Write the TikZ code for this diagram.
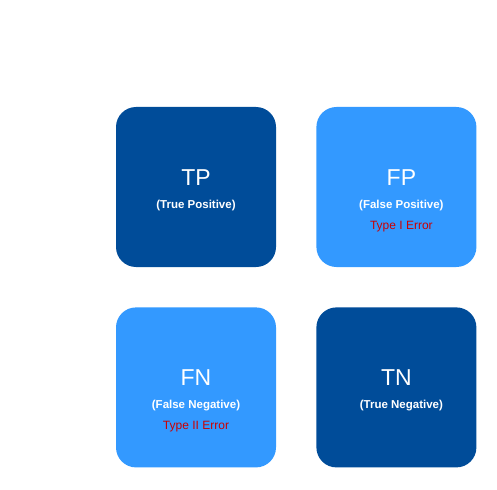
\documentclass[tikz,border=0pt]{standalone}
\usepackage{fontspec}
\setmainfont{Liberation Sans}
\usetikzlibrary{positioning}
\definecolor{darkcell}{RGB}{0,76,153}
\definecolor{lightcell}{RGB}{51,153,255}
\definecolor{errred}{RGB}{204,0,0}
\tikzstyle{cell}=[rounded corners=20pt,minimum size=160pt,inner sep=0pt]
\tikzstyle{cell title}=[anchor=base,inner sep=0pt,text=white,font=\fontsize{23}{23}\selectfont]
\tikzstyle{cell sub}=[anchor=base,inner sep=0pt,text=white,font=\fontsize{11.5}{11.5}\selectfont\bfseries]
\tikzstyle{cell error}=[anchor=base,inner sep=0pt,text=errred,font=\fontsize{12}{12}\selectfont]
\newcommand{\cellnode}[3][]{
  \node [cell, fill=#3, #1] (#2) {}
}

\begin{document}
\begin{tikzpicture}[x=1pt,y=1pt,node distance=40pt]
        \useasboundingbox (0,0) rectangle (497,-489);
        \cellnode[at={(196,-187)}]{tp}{darkcell};
        \cellnode[right=of tp]{fp}{lightcell};
        \cellnode[below=of tp]{fn}{lightcell};
        \cellnode[right=of fn]{tn}{darkcell};

        \node[cell title] (tp-title) at ([yshift=2pt]tp.center) {TP};
        \node[cell sub] (tp-sub) at ([yshift=-21pt]tp.center) {(True Positive)};

        \node[cell title] (fp-title) at ([xshift=5pt,yshift=2pt]fp.center) {FP};
        \node[cell sub] (fp-sub) at ([xshift=5pt,yshift=-21pt]fp.center) {(False Positive)};
        \node[cell error] (fp-err) at ([xshift=5pt,yshift=-42pt]fp.center) {Type I Error};

        \node[cell title] (fn-title) at ([yshift=2pt]fn.center) {FN};
        \node[cell sub] (fn-sub) at ([yshift=-21pt]fn.center) {(False Negative)};
        \node[cell error] (fn-err) at ([yshift=-42pt]fn.center) {Type II Error};

        \node[cell title] (tn-title) at ([yshift=2pt]tn.center) {TN};
        \node[cell sub] (tn-sub) at ([xshift=5pt,yshift=-21pt]tn.center) {(True Negative)};
\end{tikzpicture}
\end{document}
